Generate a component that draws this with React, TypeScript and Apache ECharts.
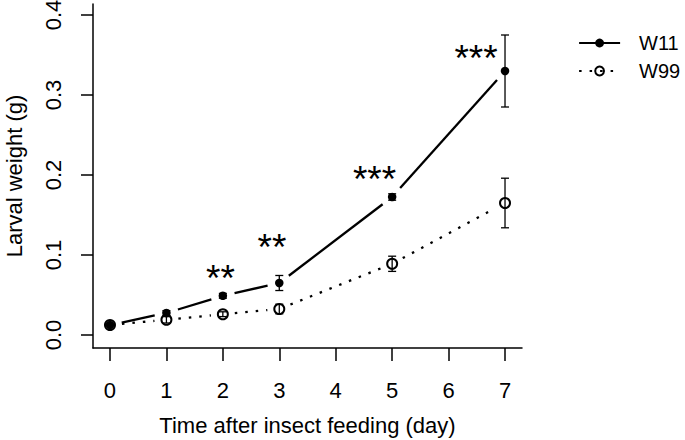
import React, { useEffect, useRef } from "react";
import * as echarts from "echarts";

const FONT = "'Liberation Sans', Arial, Helvetica, sans-serif";

// Data
const days = [0, 1, 2, 3, 5, 7];
const w11 = [0.0125, 0.0275, 0.049, 0.065, 0.1725, 0.33];
const w11Err = [0.001, 0.003, 0.003, 0.0094, 0.004, 0.045];
const w99 = [0.0125, 0.019, 0.026, 0.0325, 0.089, 0.165];
const w99Err = [0.001, 0.004, 0.003, 0.006, 0.0095, 0.031];

// significance marks (label positions in data units)
const sigX = [1.958, 2.871, 4.687, 6.486];
const sigY = [0.081, 0.119, 0.204, 0.356];
const sigLabels = ["**", "**", "***", "***"];

const xTicks = [0, 1, 2, 3, 4, 5, 6, 7];
const yTicks = [0, 0.1, 0.2, 0.3, 0.4];

function segments(xs: number[], ys: number[]) {
  const out: number[][] = [];
  for (let i = 0; i < xs.length - 1; i++) out.push([xs[i], ys[i], xs[i + 1], ys[i + 1]]);
  return out;
}
function errRows(xs: number[], ys: number[], es: number[]) {
  return xs.map((x, i) => [x, ys[i] - es[i], ys[i] + es[i]]);
}

const GAP = 12;

function segRender(width: number, dash: number[] | null) {
  return (params: any, api: any) => {
    const p1 = api.coord([api.value(0), api.value(1)]);
    const p2 = api.coord([api.value(2), api.value(3)]);
    const dx = p2[0] - p1[0];
    const dy = p2[1] - p1[1];
    const len = Math.hypot(dx, dy);
    const ux = dx / len;
    const uy = dy / len;
    return {
      type: "line",
      shape: {
        x1: p1[0] + ux * GAP,
        y1: p1[1] + uy * GAP,
        x2: p2[0] - ux * GAP,
        y2: p2[1] - uy * GAP,
      },
      style: { stroke: "#000", lineWidth: width, lineDash: dash || undefined, lineCap: "butt" },
    };
  };
}

function errRender(params: any, api: any) {
  const x = api.value(0);
  const lo = api.coord([x, api.value(1)]);
  const hi = api.coord([x, api.value(2)]);
  const cw = 4;
  const st = { stroke: "#000", lineWidth: 1.3 };
  return {
    type: "group",
    children: [
      { type: "line", shape: { x1: lo[0], y1: lo[1], x2: hi[0], y2: hi[1] }, style: st },
      { type: "line", shape: { x1: lo[0] - cw, y1: lo[1], x2: lo[0] + cw, y2: lo[1] }, style: st },
      { type: "line", shape: { x1: hi[0] - cw, y1: hi[1], x2: hi[0] + cw, y2: hi[1] }, style: st },
    ],
  };
}

function sigRender(params: any, api: any) {
  const p = api.coord([api.value(0), api.value(1)]);
  return {
    type: "text",
    x: p[0],
    y: p[1] + 8,
    style: {
      text: sigLabels[params.dataIndex],
      fontSize: 37,
      fontFamily: FONT,
      fill: "#000",
      align: "center",
      verticalAlign: "middle",
    },
  };
}

export default function App() {
  const ref = useRef<HTMLDivElement>(null);
  useEffect(() => {
    if (!ref.current) return;
    const chart = echarts.init(ref.current, null, { renderer: "svg" });
    const axisCommon = {
      axisLine: { show: true, onZero: false, lineStyle: { color: "#000", width: 1.5 } },
      splitLine: { show: false },
      nameTextStyle: { fontSize: 22, fontFamily: FONT, color: "#000" },
      nameLocation: "middle",
    };
    chart.setOption({
      animation: false,
      backgroundColor: "#fff",
      grid: {
        left: 93,
        top: 4,
        width: 429,
        height: 344,
        containLabel: false,
        outerBoundsMode: "none",
      },
      xAxis: {
        ...axisCommon,
        type: "value",
        min: -0.301,
        max: 7.301,
        name: "Time after insect feeding (day)",
        nameGap: 66,
        axisTick: { show: true, customValues: xTicks, length: 13, lineStyle: { color: "#000", width: 1.5 } },
        axisLabel: {
          customValues: xTicks,
          fontSize: 22,
          fontFamily: FONT,
          color: "#000",
          margin: 31,
        },
      },
      yAxis: {
        ...axisCommon,
        type: "value",
        min: -0.01625,
        max: 0.41375,
        name: "Larval weight (g)",
        nameGap: 68,
        axisTick: { show: true, customValues: yTicks, length: 12, lineStyle: { color: "#000", width: 1.5 } },
        axisLabel: {
          customValues: yTicks,
          rotate: 90,
          fontSize: 22,
          fontFamily: FONT,
          color: "#000",
          margin: 29,
          formatter: (v: number) => v.toFixed(1),
        },
      },
      legend: {
        orient: "vertical",
        left: 578,
        top: 33,
        padding: 0,
        itemWidth: 41,
        itemHeight: 11,
        itemGap: 8,
        selectedMode: false,
        textStyle: { fontSize: 20, fontFamily: FONT, color: "#000", padding: [0, 0, 0, 14] },
        data: [
          { name: "W11", lineStyle: { opacity: 1, width: 2.2, type: "solid" } },
          { name: "W99", lineStyle: { opacity: 1, width: 2.2, type: [2.5, 8] } },
        ],
      },
      series: [
        {
          type: "custom",
          name: "w11seg",
          renderItem: segRender(2.3, null),
          data: segments(days, w11),
          silent: true,
          z: 2,
        },
        {
          type: "custom",
          name: "w99seg",
          renderItem: segRender(2.3, [2.5, 8]),
          data: segments(days, w99),
          silent: true,
          z: 2,
        },
        {
          type: "custom",
          name: "w11err",
          renderItem: errRender,
          data: errRows(days, w11, w11Err),
          silent: true,
          z: 4,
        },
        {
          type: "custom",
          name: "w99err",
          renderItem: errRender,
          data: errRows(days, w99, w99Err),
          silent: true,
          z: 4,
        },
        {
          type: "line",
          name: "W99",
          data: days.map((d, i) => [d, w99[i]]),
          symbol: "circle",
          symbolSize: 10,
          showAllSymbol: true,
          itemStyle: { color: "rgba(255,255,255,0)", borderColor: "#000", borderWidth: 2 },
          lineStyle: { opacity: 0, width: 2.2, color: "#000", type: [2.5, 8] },
          z: 3,
        },
        {
          type: "line",
          name: "W11",
          data: days.map((d, i) => [d, w11[i]]),
          symbol: "circle",
          symbolSize: 8.5,
          showAllSymbol: true,
          itemStyle: { color: "#000", borderWidth: 0 },
          lineStyle: { opacity: 0, width: 2.2, color: "#000" },
          z: 3,
        },
        {
          type: "custom",
          name: "sig",
          renderItem: sigRender,
          data: sigX.map((x, i) => [x, sigY[i]]),
          silent: true,
          z: 5,
        },
      ],
    });
    return () => chart.dispose();
  }, []);
  return (
    <div
      ref={ref}
      style={{ position: "absolute", left: 0, top: 0, width: 685, height: 440, background: "#fff" }}
    />
  );
}
